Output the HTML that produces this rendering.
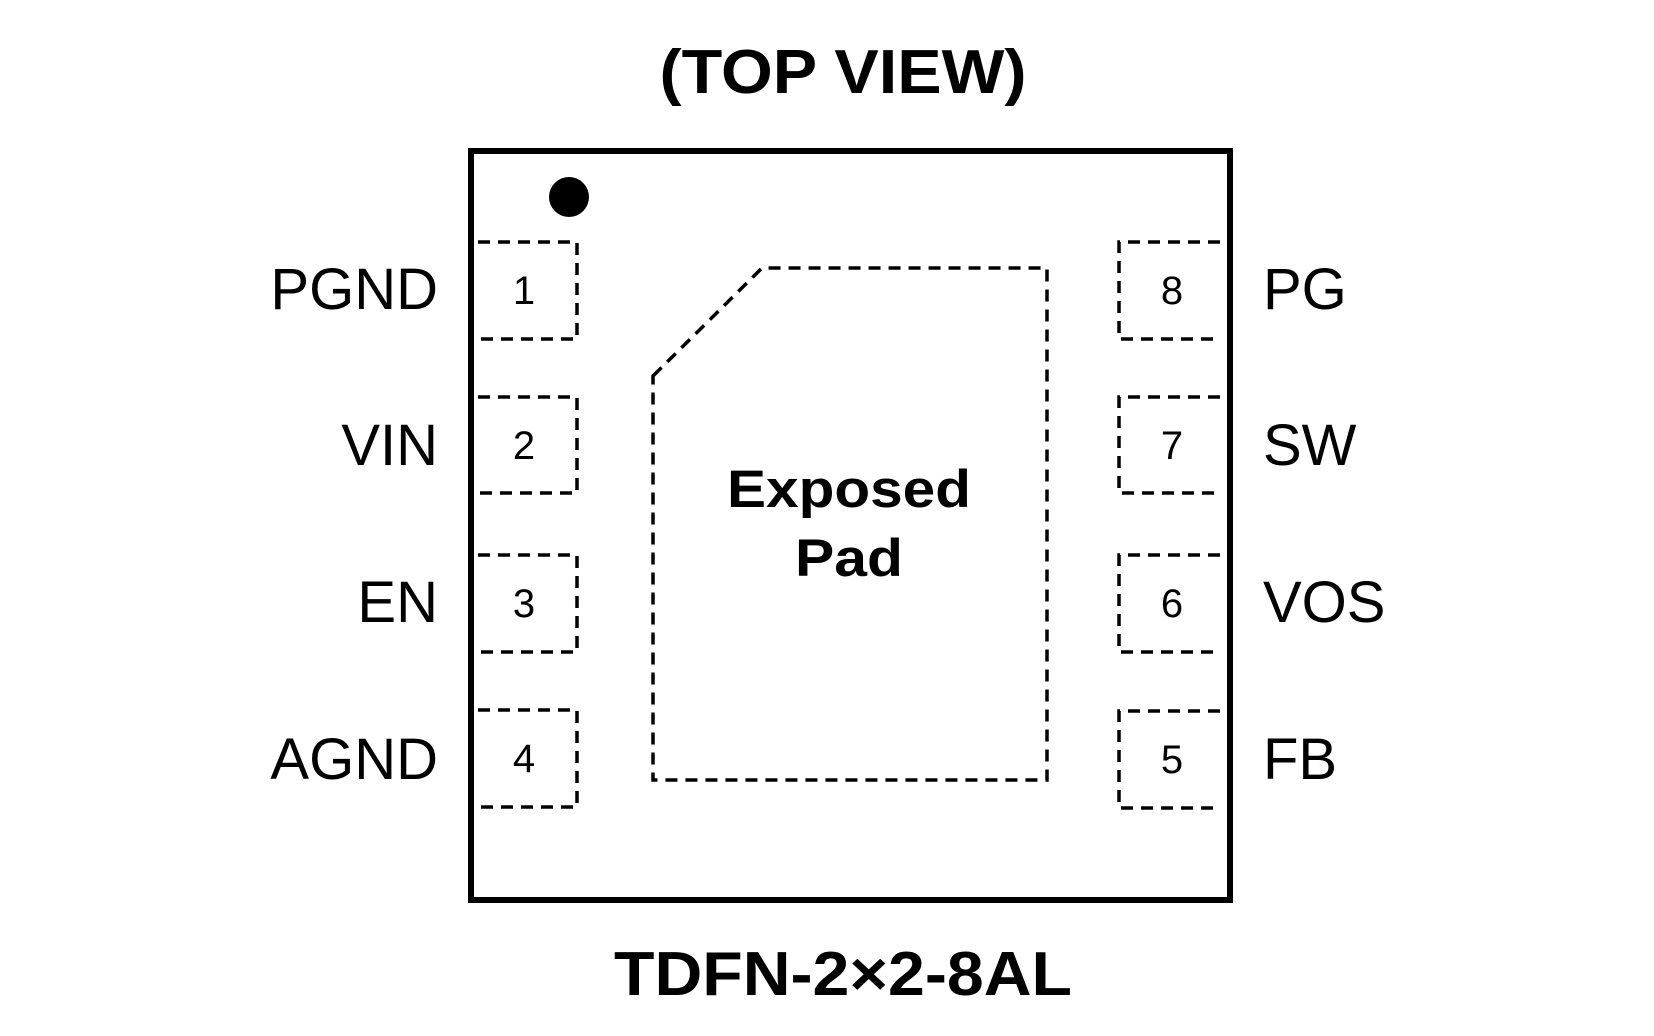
<!DOCTYPE html>
<html><head><meta charset="utf-8"><style>
html,body{margin:0;padding:0;background:#fff;}
svg{display:block;}
text{font-family:"Liberation Sans",Arial,sans-serif;fill:#000;}
</style></head><body>
<svg width="1654" height="1036" viewBox="0 0 1654 1036" xmlns="http://www.w3.org/2000/svg">
<text x="843" y="93" font-size="62" font-weight="bold" text-anchor="middle" textLength="367" lengthAdjust="spacingAndGlyphs">(TOP VIEW)</text>
<rect x="471" y="151" width="759" height="749" fill="none" stroke="#000" stroke-width="6"/>
<circle cx="569" cy="197" r="20" fill="#000"/>
<g fill="none" stroke="#000" stroke-width="3.5" stroke-dasharray="12,8">
<path d="M478 242 H577 V339 H478"/>
<path d="M478 397 H577 V493 H478"/>
<path d="M478 555 H577 V652 H478"/>
<path d="M478 710 H577 V807 H478"/>
<path d="M1220 242 H1119 V339 H1220"/>
<path d="M1220 397 H1119 V493 H1220"/>
<path d="M1220 555 H1119 V652 H1220"/>
<path d="M1220 711 H1119 V808 H1220"/>
<path d="M653 376 L762 268 H1047 V780 H653 Z"/>
</g>
<g font-size="40" text-anchor="middle">
<text x="524" y="304">1</text><text x="524" y="459">2</text><text x="524" y="617">3</text><text x="524" y="772">4</text>
<text x="1172" y="304">8</text><text x="1172" y="459">7</text><text x="1172" y="617">6</text><text x="1172" y="773">5</text>
</g>
<g font-size="58" text-anchor="end">
<text x="438" y="309">PGND</text><text x="438" y="465">VIN</text><text x="438" y="622">EN</text><text x="438" y="779">AGND</text>
</g>
<g font-size="58">
<text x="1263" y="309">PG</text><text x="1263" y="465">SW</text><text x="1263" y="622">VOS</text><text x="1263" y="779">FB</text>
</g>
<text x="849" y="507" font-size="53" font-weight="bold" text-anchor="middle" textLength="244" lengthAdjust="spacingAndGlyphs">Exposed</text>
<text x="849" y="576" font-size="53" font-weight="bold" text-anchor="middle" textLength="108" lengthAdjust="spacingAndGlyphs">Pad</text>
<text x="843" y="995" font-size="62" font-weight="bold" text-anchor="middle" textLength="458" lengthAdjust="spacingAndGlyphs">TDFN-2×2-8AL</text>
</svg>
</body></html>
